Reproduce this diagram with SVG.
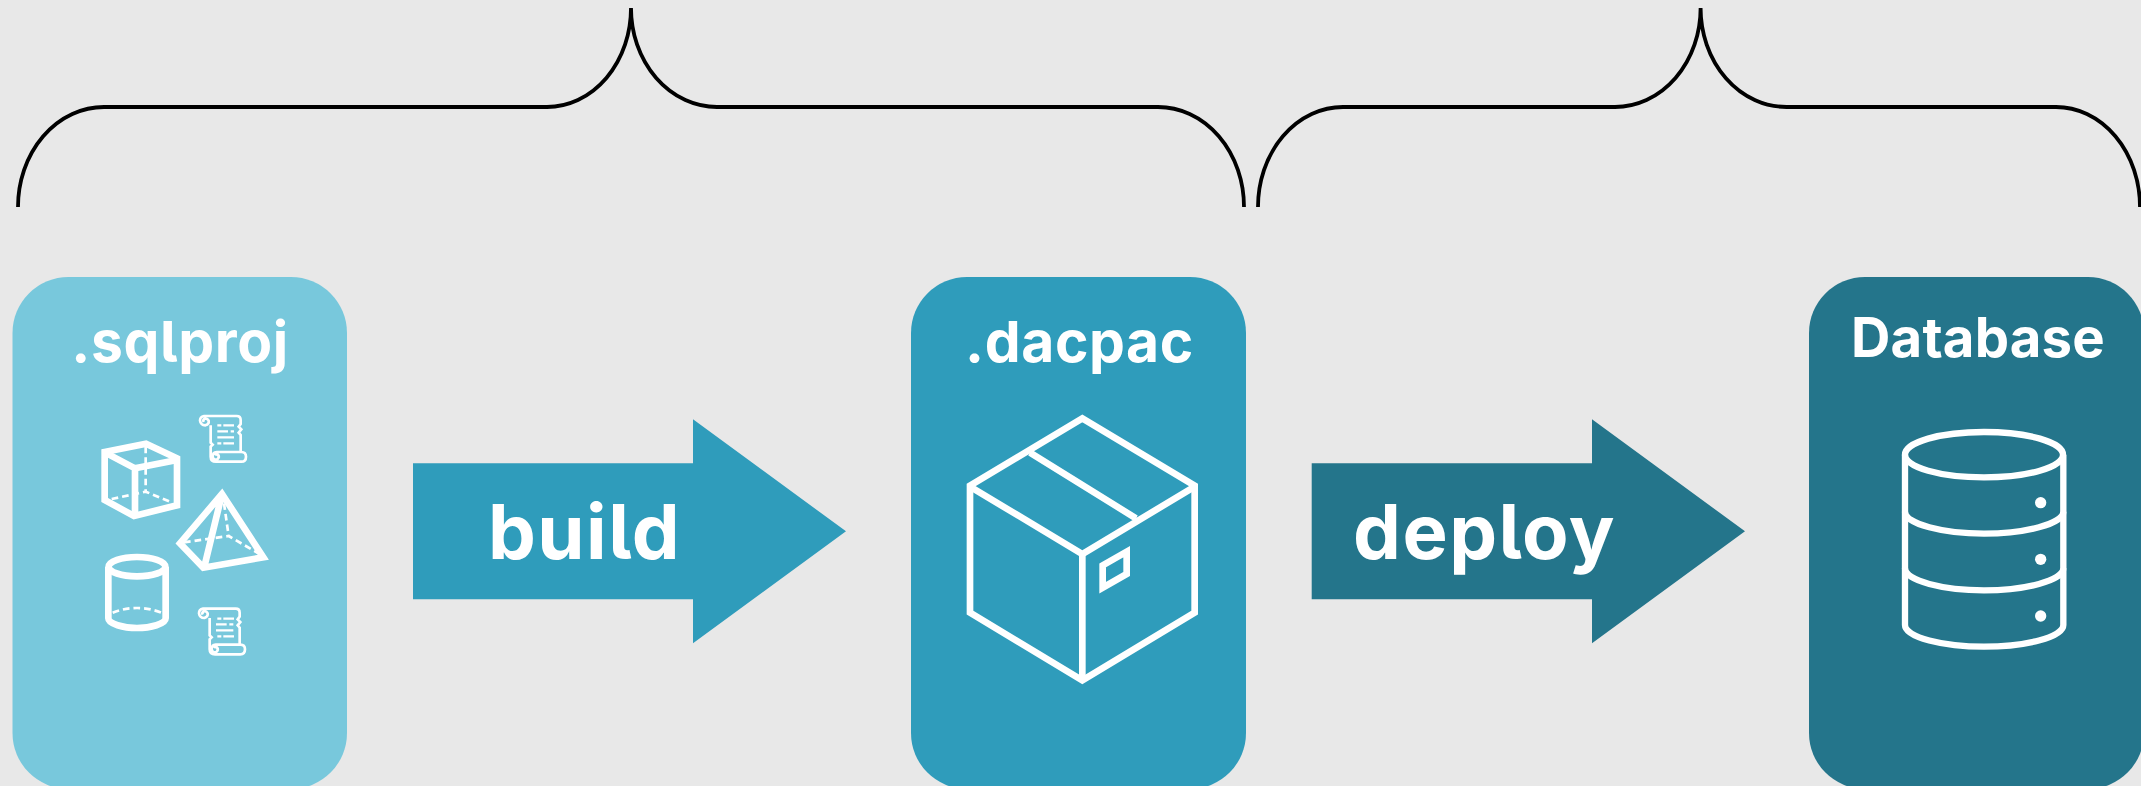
<svg xmlns="http://www.w3.org/2000/svg" width="2141" height="786" viewBox="0 0 2141 786">
<style>
text{font-family:"Inter","Liberation Sans",sans-serif;font-weight:700;fill:#fff;text-anchor:middle;font-feature-settings:"cv05"}
.t{font-size:57px;letter-spacing:.6px}.a{font-size:76px;letter-spacing:1.5px}
.brace{fill:none;stroke:#000;stroke-width:3.8}
.i{fill:none;stroke:#fff;stroke-linejoin:miter}
.d{fill:none;stroke:#fff}
</style>
<defs>
<g id="scroll-outline" class="i" stroke-width="8" stroke-linejoin="round">
<path d="M632,376 V428 L638,434 L632,440 V470 Q632,485 648,485 H724 Q738,485 738,470 Q738,456 724,456 H650 Q638,456 638,470 Q640,481 652,478 Q660,472 654,464 Q648,461 645,466"/>
<path d="M722,456 V405 L716,398 L724,388 L716,380 L722,372 V360 Q722,348 710,348 H612 Q600,350 600,362 Q602,376 616,376 Q628,372 626,362 Q622,354 614,356 Q608,360 611,366"/>
</g>
</defs>
<rect width="2141" height="786" fill="#e8e8e8"/>
<g id="connectors">
<path class="brace" d="M18,207 A86,100 0 0 1 104,107 H547 A84,99 0 0 0 631,8 A86,99 0 0 0 717,107 H1158 A86,100 0 0 1 1244,207"/>
<path class="brace" d="M1258,207 A85,100 0 0 1 1343,107 H1615 A85.6,99 0 0 0 1700.6,8 A86,99 0 0 0 1787,107 H2056 A84,100 0 0 1 2140,207"/>
<polygon id="arrow-build" fill="#2f9cbb" points="413,463.3 693,463.3 693,419.3 846,531.3 693,643.3 693,599.3 413,599.3"/>
<polygon id="arrow-deploy" fill="#24758b" points="1311.7,463.3 1592,463.3 1592,419.3 1745,531.3 1592,643.3 1592,599.3 1311.7,599.3"/>
<text class="a" x="584.5" y="559">build</text>
<text class="a" x="1484.5" y="559">deploy</text>
</g>
<g id="node-sqlproj">
<rect x="12.5" y="277" width="334.5" height="512" rx="56" fill="#78c8dc"/>
<text class="t" x="180" y="362">.sqlproj</text>
<g transform="translate(0 300) scale(.33333)">
<g class="i" stroke-width="20">
<path d="M314,456 L438,431 L531,475 V616 L402,648 L314,600 Z"/>
<path d="M320,460 L405,505 L531,480 M405,505 V640"/>
<path d="M666,582 L540,730 L610,803 L790,772 Z M666,582 L613,800"/>
<ellipse cx="411" cy="800" rx="85" ry="29"/>
<path d="M325,800 V955 C325,972 370,984 411,984 C452,984 497,972 497,955 V800"/>
</g>
<g class="d" stroke-width="8" stroke-dasharray="20 12">
<path d="M437,440 V575 M335,597 L437,575 L515,607"/>
<path d="M672,610 L686,708 M552,727 L686,708 L775,760"/>
<path d="M338,938 Q411,910 485,938"/>
</g>
<use href="#scroll-outline"/>
<path class="d" stroke-width="7" d="M652,376 H664 M670,376 H702 M652,394 H684 M692,394 H702 M652,412 H702 M652,430 H664 M670,430 H702"/>
<use href="#scroll-outline" x="-3" y="578"/>
<path class="d" stroke-width="7" d="M652,956 H664 M670,956 H702 M648,973 H680 M688,973 H700 M648,991 H700 M652,1009 H664 M670,1009 H702"/>
</g>
</g>
<g id="node-dacpac">
<rect x="911" y="277" width="335" height="512" rx="56" fill="#2f9cbb"/>
<text class="t" x="1079.5" y="362">.dacpac</text>
<g transform="translate(900 300) scale(.33333)" class="i" stroke-width="20">
<path d="M547,355 L884,557 V938 L547,1141 L210,938 V557 Z"/>
<path d="M210,560 L547,762 L884,560 M547,762 V1141 M390,458 L708,655"/>
<path d="M608,796 L680,755 V822 L608,863 Z"/>
</g>
</g>
<g id="node-database">
<rect x="1809" y="277" width="335" height="512" rx="56" fill="#24758b"/>
<text class="t" x="1978" y="357" style="font-size:54.5px;letter-spacing:.2px">Database</text>
<g transform="translate(1800 300) scale(.33333)">
<g class="i" stroke-width="19">
<ellipse cx="552" cy="464" rx="237" ry="68"/>
<path d="M315,464 V975 C315,1012 430,1040 552,1040 C674,1040 790,1012 790,975 V464"/>
<path d="M315,635 C315,672 430,701 552,701 C674,701 790,672 790,635 M315,805 C315,842 430,871 552,871 C674,871 790,842 790,805"/>
</g>
<g fill="#fff"><circle cx="722" cy="608" r="17"/><circle cx="722" cy="778" r="17"/><circle cx="722" cy="948" r="17"/></g>
</g>
</g>
</svg>
